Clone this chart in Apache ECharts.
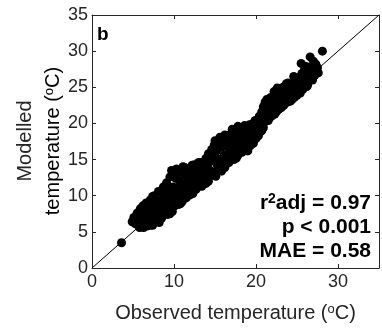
<!DOCTYPE html>
<html>
<head>
<meta charset="utf-8">
<script src="https://cdn.jsdelivr.net/npm/echarts@6/dist/echarts.min.js"></script>
<style>
html,body{margin:0;padding:0;background:#fff;}
#chart{width:382px;height:331px;}
</style>
</head>
<body>
<div id="chart"></div>
<script>
// Observed vs modelled temperature (°C)
var points = [
[3.6,3.5],[4.9,6.4],[5.1,7.0],[5.3,6.1],[5.5,7.6],[5.6,6.6],[5.8,5.6],[5.9,8.2],[6.0,7.1],[6.1,6.2],
[6.2,8.6],[6.3,5.6],[6.4,7.6],[6.5,6.7],[6.6,9.0],[6.7,5.8],[6.8,8.1],[6.9,7.2],[7.0,6.3],[7.1,9.4],[7.2,8.6],[7.3,7.0],[7.4,5.9],[7.5,7.9],
[7.6,10.0],[7.7,9.1],[7.8,6.5],[7.9,8.4],[8.0,7.4],[8.1,10.6],[8.2,6.3],[8.3,9.3],[8.4,8.0],[8.5,6.9],[8.6,10.2],[8.7,11.2],[8.8,8.7],[8.9,7.5],[9.0,9.6],
[9.1,11.8],[9.2,7.4],[9.3,10.5],[9.4,8.3],[9.5,12.6],[9.6,9.4],[9.7,13.5],[9.8,7.8],[9.9,11.2],[10.0,10.1],[10.1,8.6],[10.2,12.4],[10.3,13.7],[10.4,9.3],[10.5,11.0],
[10.6,8.8],[10.7,12.0],[10.8,13.2],[10.9,10.0],[11.0,9.2],[11.1,14.0],[11.2,11.6],[11.3,10.7],[11.4,12.8],[11.5,9.7],[11.6,13.4],[11.7,11.0],[11.8,12.2],[11.9,10.1],[12.0,13.6],
[12.1,11.5],[12.2,14.2],[12.3,10.4],[12.4,12.9],[12.5,11.9],[12.6,13.8],[12.7,10.9],[12.8,12.4],[12.9,14.0],[13.0,11.3],[13.1,13.2],[13.2,12.0],[13.3,14.6],[13.4,11.3],[13.5,12.7],
[13.6,14.0],[13.7,11.8],[13.8,13.3],[13.9,15.2],[14.0,12.4],[14.1,14.4],[14.2,12.0],[14.3,13.6],[14.4,15.6],[14.5,12.8],[14.6,16.4],[14.7,14.8],[14.8,13.2],[14.9,17.0],[15.0,15.5],
[15.1,12.7],[15.2,16.2],[15.3,14.1],[15.4,17.4],[15.5,15.0],[15.6,18.1],[15.7,13.6],[15.8,16.7],[15.9,14.6],[16.0,17.6],[16.1,15.6],[16.2,13.9],[16.3,16.9],[16.4,18.2],[16.5,15.1],
[16.6,17.4],[16.7,14.6],[16.8,16.2],[16.9,18.5],[17.0,15.4],[17.1,19.2],[17.2,17.0],[17.3,15.0],[17.4,18.0],[17.5,16.3],[17.6,19.0],[17.7,17.5],[17.8,15.6],[17.9,18.6],[18.0,16.8],
[18.1,19.4],[18.2,17.9],[18.3,16.0],[18.4,18.4],[18.5,17.2],[18.6,19.7],[18.7,16.4],[18.8,18.9],[18.9,17.6],[19.0,16.2],[19.1,19.2],[19.2,18.1],[19.3,16.9],[19.4,19.8],[19.5,17.7],
[19.6,18.6],[19.7,17.3],[19.8,20.2],[19.9,19.0],[20.0,17.9],[20.1,20.2],[20.2,19.5],[20.3,18.3],[20.4,21.0],[20.5,20.0],[20.6,18.9],[20.7,21.6],[20.8,20.6],[20.9,19.4],[21.0,21.5],
[21.1,22.9],[21.2,20.3],[21.3,23.3],[21.4,21.9],[21.5,20.4],[21.6,22.5],[21.7,20.8],[21.8,23.6],[21.9,21.4],[22.0,21.1],[22.1,22.8],[22.2,24.4],[22.3,21.7],[22.4,23.3],[22.5,21.6],
[22.6,22.4],[22.7,23.9],[22.8,22.0],[22.9,24.6],[23.0,22.9],[23.1,22.2],[23.2,23.5],[23.3,25.0],[23.4,22.5],[23.5,24.1],[23.6,22.8],[23.7,25.5],[23.8,23.3],[23.9,23.0],[24.0,24.6],
[24.1,23.1],[24.2,25.3],[24.3,23.8],[24.4,23.3],[24.5,25.0],[24.6,24.2],[24.7,23.6],[24.8,26.0],[24.9,24.7],[25.0,23.9],[25.1,25.6],[25.2,24.3],[25.3,26.4],[25.4,24.2],[25.5,25.1],
[25.5,28.3],[25.6,26.9],[25.7,24.7],[25.8,26.0],[25.9,27.4],[26.0,25.2],[26.1,26.6],[26.2,25.1],[26.3,27.8],[26.4,25.8],[26.5,27.0],[26.6,29.2],[26.7,26.1],[26.8,27.6],[26.9,26.0],
[27.0,26.8],[27.1,27.9],[27.2,26.7],[27.3,28.2],[27.4,27.2],[27.5,27.7],[28.1,30.0],
[7.4,9.9],[8.9,11.0],[10.0,13.0],[11.3,13.9],[12.5,14.3],[13.0,14.6],[14.2,15.8],[15.0,17.6],[16.2,18.4],[17.8,19.6],[19.2,19.8],[19.9,20.4],[20.9,22.3],[22.6,24.9],[23.9,25.6],[24.6,26.5],[26.0,27.9],[27.0,28.6],
[7.1,5.9],[9.5,7.5],[10.8,8.9],[12.3,10.3],[13.9,11.7],[15.8,13.4],[17.6,15.2],[19.6,17.2],[20.7,19.0],[22.3,21.3],[24.2,23.1],[26.3,25.3],[27.6,27.0]
];
var oneToOne = [[0,0],[35,35]];
var axisMin = 0, axisMax = 35;
var xInterval = 10, yInterval = 5;
var xTitle = 'Observed temperature ({sup|o}C)';
var yTitleLine1 = 'Modelled';
var yTitleLine2 = '{n|temperature (}{sup|o}{n|C)}';
var panelLabel = 'b';
var statLines = ['{b|r}{s|2}{b|adj = 0.97}', 'p < 0.001', 'MAE = 0.58'];

var FONT = '"Liberation Sans", Arial, sans-serif';
var AX = '#262626';
var chart = echarts.init(document.getElementById('chart'), null, {renderer: 'canvas'});
var supRich = {sup: {fontSize: 13, fontFamily: FONT, color: AX, verticalAlign: 'top', lineHeight: 16, padding: [0,0,8,0]}};
function axisCommon(showLabel, interval) {
  return {
    type: 'value', min: axisMin, max: axisMax, interval: interval,
    axisLine: {show: true, onZero: false, lineStyle: {color: AX, width: 1}},
    axisTick: {show: true, inside: true, length: 4, lineStyle: {color: AX, width: 1}},
    axisLabel: {show: showLabel, fontSize: 18, fontFamily: FONT, color: AX, showMaxLabel: false},
    splitLine: {show: false}
  };
}
var x0 = axisCommon(true, xInterval);
x0.position = 'bottom';
x0.axisLabel.margin = 5;
x0.name = xTitle; x0.nameLocation = 'middle'; x0.nameGap = 35;
x0.nameTextStyle = {fontSize: 20, fontFamily: FONT, color: AX, rich: supRich};
var x1 = axisCommon(false, xInterval); x1.position = 'top';
var y0 = axisCommon(true, yInterval);
y0.position = 'left';
y0.axisLabel.margin = 4;
y0.axisLabel.showMaxLabel = true;
var y1 = axisCommon(false, yInterval); y1.position = 'right';

var titleRich = {
  n: {fontSize: 20, fontFamily: FONT, color: AX},
  sup: {fontSize: 13, fontFamily: FONT, color: AX, verticalAlign: 'top', padding: [0,0,8,0]}
};

chart.setOption({
  animation: false,
  grid: {left: 92, right: 3, top: 15, bottom: 63, containLabel: false, outerBoundsMode: 'none'},
  xAxis: [x0, x1],
  yAxis: [y0, y1],
  series: [
    {type: 'line', xAxisIndex: 0, yAxisIndex: 0, data: oneToOne, symbol: 'none',
     lineStyle: {color: '#000', width: 1}, z: 1, silent: true},
    {type: 'scatter', xAxisIndex: 0, yAxisIndex: 0, data: points, symbol: 'circle', symbolSize: 9,
     itemStyle: {color: '#000', opacity: 1}, z: 2, silent: true}
  ],
  graphic: [
    {type: 'text', x: 25, y: 141, rotation: Math.PI / 2,
     style: {text: yTitleLine1, font: '20px ' + FONT, fill: AX, textAlign: 'center', textVerticalAlign: 'middle'}},
    {type: 'text', x: 53, y: 141, rotation: Math.PI / 2,
     style: {text: yTitleLine2, rich: titleRich, textAlign: 'center', textVerticalAlign: 'middle'}},
    {type: 'text', left: 97, top: 25, style: {text: panelLabel, font: 'bold 19px ' + FONT, fill: '#000'}},
    {type: 'text', z: 10, style: {x: 371, y: 203, text: statLines[0], textAlign: 'right', textVerticalAlign: 'middle',
      rich: {b: {fontSize: 21, fontWeight: 'bold', fontFamily: FONT, color: '#000'},
             s: {fontSize: 14, fontWeight: 'bold', fontFamily: FONT, color: '#000', verticalAlign: 'top', padding: [0,0,8,0]}}}},
    {type: 'text', z: 10, style: {x: 371, y: 227, text: statLines[1], textAlign: 'right', textVerticalAlign: 'middle',
      font: 'bold 21px ' + FONT, fill: '#000'}},
    {type: 'text', z: 10, style: {x: 371, y: 251, text: statLines[2], textAlign: 'right', textVerticalAlign: 'middle',
      font: 'bold 21px ' + FONT, fill: '#000'}}
  ]
});
</script>
</body>
</html>
